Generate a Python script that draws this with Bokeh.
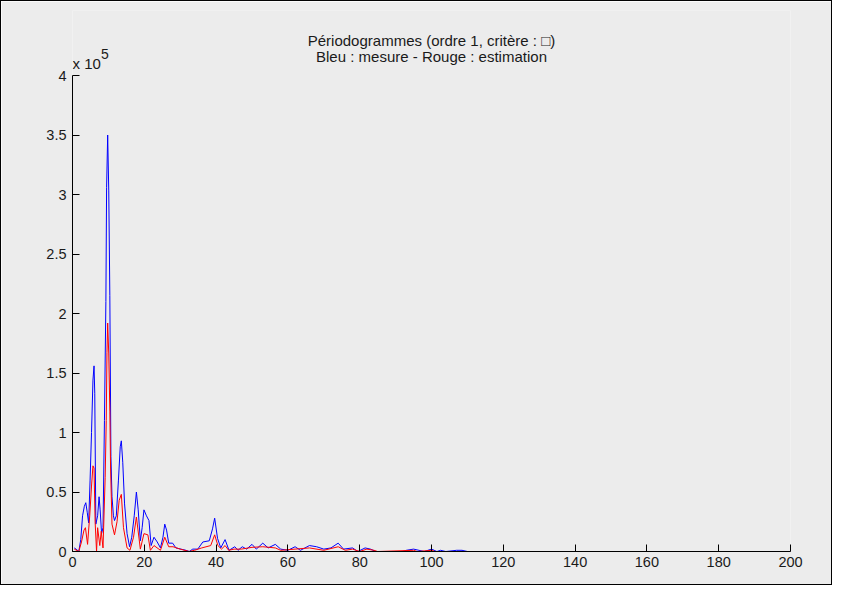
from bokeh.plotting import figure
from bokeh.models import Range1d, FixedTicker
from bokeh.core.properties import value
from bokeh.embed import file_html
from bokeh.resources import INLINE

# Blue: measured periodogram
blue_x = [0.5, 1.0, 1.75, 2.3, 2.8, 3.3, 3.7, 4.1, 4.5, 4.9, 5.3, 5.7, 6.0, 6.2, 6.5,
          7.0, 7.4, 7.7, 8.1, 8.5, 8.9, 9.3, 9.5, 9.8, 10.1, 10.4, 10.7, 11.0, 11.4,
          11.7, 12.2, 12.8, 13.3, 13.6, 14.0, 14.5, 15.2, 15.9, 16.5, 17.2, 17.8,
          18.3, 18.9, 19.4, 19.9, 20.6, 21.3, 21.9, 22.7, 23.6, 24.5, 25.2, 25.7,
          26.2, 26.8, 27.9, 28.8, 30.2, 31.6, 32.5, 33.5, 34.9, 36.3, 38.1, 39.0,
          39.6, 40.4, 41.3, 42.5, 43.6, 45.2, 46.1, 47.3, 48.5, 50.0, 51.2, 53.0,
          54.5, 56.5, 58.0, 60.0, 62.0, 63.5, 66.0, 68.0, 70.0, 72.0, 74.0, 75.5,
          78.0, 79.5, 81.5, 83.0, 84.5, 92.0, 93.0, 95.0, 96.5, 98.0, 100.0, 101.5,
          102.5, 104.0, 107.0, 108.5, 110.0, 200.0]
blue_y = [3000, 2000, 0, 10000, 30000, 38000, 41000, 33000, 24000, 60000, 100000,
          144000, 156000, 133000, 23000, 30000, 46000, 35000, 15000, 20000, 110000,
          210000, 306000, 350000, 303000, 215000, 80000, 46000, 30000, 26000, 30000,
          60000, 88000, 93000, 75000, 40000, 15000, 4000, 12000, 30000, 50000, 35000,
          9000, 20000, 35000, 30000, 26000, 5000, 12000, 8000, 3000, 12000, 23000,
          18000, 7000, 7000, 3000, 2000, 1000, 0, 2000, 2000, 8000, 9000, 19000,
          28000, 11000, 3000, 10000, 1000, 4000, 1000, 4000, 2000, 6000, 2000, 7000,
          3000, 6000, 2000, 1000, 4000, 1000, 5000, 4000, 2000, 3000, 7000, 2000,
          3000, 0, 3000, 2000, 0, 0, 1000, 2000, 1000, 0, 2000, 0,
          1000, 0, 1000, 1000, 0, 0]

# Red: estimated periodogram
red_x = [0.5, 1.75, 2.5, 3.2, 3.6, 4.2, 4.8, 5.3, 5.7, 6.0, 6.3, 6.7, 7.0, 7.6, 8.0,
         8.5, 9.1, 9.4, 9.6, 9.8, 10.1, 10.4, 10.6, 11.0, 11.7, 12.4, 13.0, 13.6,
         14.2, 15.2, 16.0, 17.0, 17.8, 18.9, 19.9, 21.0, 21.7, 22.7, 24.5, 25.7,
         26.8, 28.0, 30.0, 32.5, 34.0, 36.0, 38.5, 39.6, 40.5, 41.5, 42.5, 43.5,
         45.0, 47.0, 50.0, 53.0, 56.5, 58.0, 62.0, 66.0, 70.0, 74.0, 76.0, 78.0,
         80.0, 82.0, 84.0, 85.0, 95.0, 96.0, 100.0, 101.0, 200.0]
red_y = [2000, 0, 8000, 18000, 20000, 6000, 30000, 55000, 72000, 70000, 25000, 0,
         20000, 5000, 17000, 3000, 62000, 110000, 167000, 192000, 166000, 118000,
         71000, 23000, 14000, 25000, 43000, 48000, 20000, 3000, 1000, 12000, 29000,
         2000, 15000, 14000, 1000, 5000, 1000, 12000, 4000, 4000, 2000, 0, 1000,
         3000, 5000, 14000, 5000, 2000, 5000, 1000, 2000, 2000, 3500, 4000, 3000,
         1000, 2000, 3000, 1000, 4000, 1000, 2000, 0, 2000, 1000, 0, 1000, 0,
         1000, 0, 0]

x_ticks = [0, 20, 40, 60, 80, 100, 120, 140, 160, 180, 200]
y_ticks = [0, 50000, 100000, 150000, 200000, 250000, 300000, 350000, 400000]
y_labels = ["0", "0.5", "1", "1.5", "2", "2.5", "3", "3.5", "4"]
Y_MAX = 400000

title1 = "Périodogrammes (ordre 1, critère : \u25a1)"
title2 = "Bleu : mesure - Rouge : estimation"
exp_base = "x 10"
exp_pow = "5"

BG = "#ECECEC"
FONT = "Liberation Sans"
W, H = 832, 585

# layout in absolute pixels (1px border included)
FRAME_TOP_ABS = 10
AXIS_TOP_ABS = 75
AXIS_BOT_ABS = 551
px_y = Y_MAX / (AXIS_BOT_ABS - AXIS_TOP_ABS)
px_x = 200 / 718.0
y_end = (AXIS_BOT_ABS - FRAME_TOP_ABS) * px_y


def ya(y_abs):
    return (AXIS_BOT_ABS - y_abs) * px_y


def xa(x_abs):
    return (x_abs - 72) * px_x


p = figure(width=W, height=H, output_backend="svg", toolbar_location=None,
           x_range=Range1d(0, 200), y_range=Range1d(0, y_end),
           background_fill_color=BG, border_fill_color=BG,
           min_border_left=71, min_border_right=43,
           min_border_top=FRAME_TOP_ABS - 1, min_border_bottom=35)
p.styles = {"border": "1px solid black"}
p.outline_line_color = None
p.xgrid.visible = False
p.ygrid.visible = False

p.line(blue_x, blue_y, line_color="#0000FF", line_width=1)
p.line(red_x, red_y, line_color="#FF0000", line_width=1)

for ax in (p.xaxis[0], p.yaxis[0]):
    ax.major_tick_in = 7
    ax.major_tick_out = 0
    ax.minor_tick_in = 0
    ax.minor_tick_out = 0
    ax.axis_line_color = "black"
    ax.major_tick_line_color = "black"
    ax.major_label_text_font = FONT
    ax.major_label_text_font_size = "14.5px"
    ax.major_label_text_color = "#1a1a1a"

p.xaxis[0].major_label_standoff = 5
p.yaxis[0].major_label_standoff = 6
p.xaxis[0].ticker = FixedTicker(ticks=x_ticks)
p.yaxis[0].ticker = FixedTicker(ticks=y_ticks)
p.yaxis[0].bounds = (0, Y_MAX)
p.yaxis[0].major_label_overrides = {t: s for t, s in zip(y_ticks, y_labels)}

# titles (centred on the axes) and the exponent label
p.text(x=[xa(431), xa(431)], y=[ya(40), ya(56)], text=[title1, title2],
       text_align="center", text_baseline="middle",
       text_font=value(FONT), text_font_size="15px", text_color="#1a1a1a")
p.text(x=[xa(72)], y=[ya(63)], text=[exp_base], text_align="left", text_baseline="middle",
       text_font=value(FONT), text_font_size="15px", text_color="#1a1a1a")
p.text(x=[xa(100.5)], y=[ya(53)], text=[exp_pow], text_align="left", text_baseline="middle",
       text_font=value(FONT), text_font_size="14px", text_color="#1a1a1a")

open("out.html", "w").write(file_html(p, INLINE))
